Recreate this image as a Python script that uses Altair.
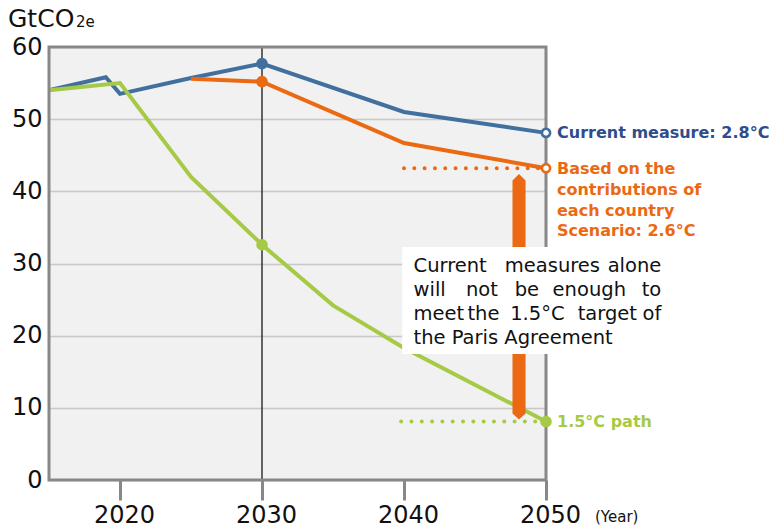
import altair as alt
import pandas as pd

# Emission pathways (GtCO2e)
years_current = [2015, 2019, 2020, 2025, 2030, 2040, 2050]
current_measure = [54.0, 55.8, 53.5, 55.7, 57.7, 51.0, 48.1]

years_ndc = [2025, 2030, 2040, 2050]
ndc_scenario = [55.6, 55.2, 46.7, 43.2]

years_path = [2015, 2020, 2025, 2030, 2035, 2040, 2050]
path_15 = [54.0, 55.0, 42.0, 32.6, 24.2, 18.3, 8.1]

x_ticks = [2020, 2030, 2040, 2050]
y_ticks = [0, 10, 20, 30, 40, 50, 60]

current_label = "Current measure: 2.8°C"
ndc_label = ["Based on the", "contributions of", "each country", "Scenario: 2.6°C"]
path_label = "1.5°C path"
box_lines = [
    ["Current", "measures", "alone"],
    ["will", "not", "be", "enough", "to"],
    ["meet", "the", "1.5°C", "target", "of"],
    ["the Paris Agreement"],
]

BLUE = "#41709f"
BLUE_TEXT = "#2e4d8c"
ORANGE = "#eb6912"
GREEN = "#a6ca46"
FRAME = "#888888"
FONT = "DejaVu Sans"

W, H = 497, 433
PAD_L, PAD_T = 49, 47

x_scale = alt.Scale(domain=[2015, 2050], nice=False, zero=False)
y_scale = alt.Scale(domain=[0, 60], nice=False, zero=True)

x_axis = alt.Axis(values=x_ticks, format="d", title=None, grid=False, domain=False,
                  ticks=True, tickSize=20, tickWidth=3, tickColor=FRAME,
                  labelFont=FONT, labelFontSize=24, labelColor="#111111",
                  labelPadding=3, labelFlush=False, labelOffset=4)
y_axis = alt.Axis(values=y_ticks, title=None, grid=True, gridColor="#c8c8c8",
                  gridWidth=1.5, domain=False, ticks=False, tickSize=0,
                  labelPadding=7, labelFont=FONT, labelFontSize=24,
                  labelColor="#111111", labelFlush=False)


def X(field="year"):
    return alt.X(f"{field}:Q", scale=x_scale, axis=x_axis)


def Y(field="value"):
    return alt.Y(f"{field}:Q", scale=y_scale, axis=y_axis)


series_df = pd.concat([
    pd.DataFrame({"year": years_current, "value": current_measure, "series": "current"}),
    pd.DataFrame({"year": years_ndc, "value": ndc_scenario, "series": "ndc"}),
    pd.DataFrame({"year": years_path, "value": path_15, "series": "path"}),
], ignore_index=True)

color_scale = alt.Scale(domain=["current", "ndc", "path"], range=[BLUE, ORANGE, GREEN])
color = alt.Color("series:N", legend=None, scale=color_scale)

# vertical reference at 2030
ref_2030 = alt.Chart(pd.DataFrame({"year": [2030]})).mark_rule(
    color="#333333", strokeWidth=1.5
).encode(x=X(), y=alt.value(0), y2=alt.value(H))

# dotted guides toward the 2050 end values
guides_df = pd.DataFrame({
    "year": [2040, 2050, 2039.8, 2050],
    "value": [ndc_scenario[-1], ndc_scenario[-1], path_15[-1], path_15[-1]],
    "series": ["ndc", "ndc", "path", "path"],
})
guides = alt.Chart(guides_df).mark_line(
    strokeWidth=4, strokeCap="round", strokeDash=[0.01, 10.3]
).encode(x=X(), y=Y(), color=color, detail="series:N")

lines = alt.Chart(series_df).mark_line(strokeWidth=4).encode(
    x=X(), y=Y(), color=color, detail="series:N"
)

# double-headed gap arrow between the scenario and the 1.5°C path in 2050
arrow_df = pd.DataFrame({
    "year": [2047.64, 2048.1, 2048.56],
    "top": [41.5, 42.4, 41.5],
    "bottom": [9.2, 8.4, 9.2],
})
arrow = alt.Chart(arrow_df).mark_area(color=ORANGE, opacity=1).encode(
    x=X(), y=Y("top"), y2=alt.Y2("bottom:Q")
)

frame = alt.Chart(pd.DataFrame({"a": [0]})).mark_rect(
    fill="transparent", stroke=FRAME, strokeWidth=3
).encode(x=alt.value(0), x2=alt.value(W), y=alt.value(0), y2=alt.value(H))

is_2030 = series_df["year"] == 2030
is_end = series_df["year"] == 2050
filled_df = series_df[is_2030 | (is_end & (series_df["series"] == "path"))]
open_df = series_df[is_end & (series_df["series"] != "path")]

dots = alt.Chart(filled_df).mark_circle(size=135, opacity=1).encode(
    x=X(), y=Y(), color=color
)
rings = alt.Chart(open_df).mark_point(
    size=68, filled=True, fill="white", strokeWidth=2.6, opacity=1
).encode(x=X(), y=Y(), stroke=alt.Stroke("series:N", scale=color_scale, legend=None))

# callout box
box = alt.Chart(pd.DataFrame({"year": [2039.87], "year2": [2058.8],
                              "top": [32.3], "bottom": [17.46]})).mark_rect(
    fill="white"
).encode(x=X(), x2=alt.X2("year2:Q"), y=Y("top"), y2=alt.Y2("bottom:Q"))

# justified callout text: first word left, last word right, inner words centred
left_x, right_x = 2040.67, 2058.12
line_vals = [28.89, 25.56, 22.24, 18.91]
inner_x = [[2050.45], [2045.49, 2048.65, 2053.05], [2045.59, 2049.39, 2054.32], []]
word_rows = []
for words, v, mids in zip(box_lines, line_vals, inner_x):
    word_rows.append({"year": left_x, "value": v, "word": words[0], "pos": "left"})
    if len(words) == 1:
        continue
    for w, xm in zip(words[1:-1], mids):
        word_rows.append({"year": xm, "value": v, "word": w, "pos": "center"})
    word_rows.append({"year": right_x, "value": v, "word": words[-1], "pos": "right"})
words_df = pd.DataFrame(word_rows)

box_text = []
for pos in ["left", "center", "right"]:
    box_text.append(
        alt.Chart(words_df[words_df["pos"] == pos]).mark_text(
            font=FONT, fontSize=19.5, color="#111111", align=pos, baseline="alphabetic"
        ).encode(x=X(), y=Y(), text="word:N")
    )

# end-of-line labels
label_current = alt.Chart(pd.DataFrame({"year": [2050], "value": [current_measure[-1]],
                                        "t": [current_label]})).mark_text(
    font=FONT, fontSize=16, fontWeight="bold", color=BLUE_TEXT, align="left",
    baseline="middle", dx=11
).encode(x=X(), y=Y(), text="t:N")

label_ndc = []
for i, line in enumerate(ndc_label):
    label_ndc.append(
        alt.Chart(pd.DataFrame({"year": [2050], "value": [ndc_scenario[-1]], "t": [line]}))
        .mark_text(font=FONT, fontSize=16, fontWeight="bold", color=ORANGE, align="left",
                   baseline="middle", dx=11, dy=1 + i * 20.7)
        .encode(x=X(), y=Y(), text="t:N")
    )

label_path = alt.Chart(pd.DataFrame({"year": [2050], "value": [path_15[-1]],
                                     "t": [path_label]})).mark_text(
    font=FONT, fontSize=16, fontWeight="bold", color=GREEN, align="left",
    baseline="middle", dx=11
).encode(x=X(), y=Y(), text="t:N")

# unit labels
unit_main = alt.Chart(pd.DataFrame({"t": ["GtCO"]})).mark_text(
    font=FONT, fontSize=25, color="#111111", align="left", baseline="alphabetic"
).encode(x=alt.value(8 - PAD_L), y=alt.value(27 - PAD_T), text="t:N")
unit_sub = alt.Chart(pd.DataFrame({"t": ["2e"]})).mark_text(
    font=FONT, fontSize=15, color="#111111", align="left", baseline="alphabetic"
).encode(x=alt.value(76 - PAD_L), y=alt.value(27 - PAD_T), text="t:N")
unit_year = alt.Chart(pd.DataFrame({"t": ["(Year)"]})).mark_text(
    font=FONT, fontSize=15, color="#111111", align="left", baseline="middle"
).encode(x=alt.value(595 - PAD_L), y=alt.value(517 - PAD_T), text="t:N")

chart = alt.layer(
    ref_2030, guides, lines, arrow, frame, dots, rings, box, *box_text,
    label_current, *label_ndc, label_path, unit_main, unit_sub, unit_year
).properties(
    width=W, height=H,
    autosize=alt.AutoSizeParams(type="none"),
    padding={"left": PAD_L, "top": PAD_T, "right": 776 - PAD_L - W,
             "bottom": 528 - PAD_T - H},
    background="white",
).configure_view(fill="#f1f1f1", stroke="transparent")

chart.save("out.html", embed_options={"renderer": "svg", "actions": False})
